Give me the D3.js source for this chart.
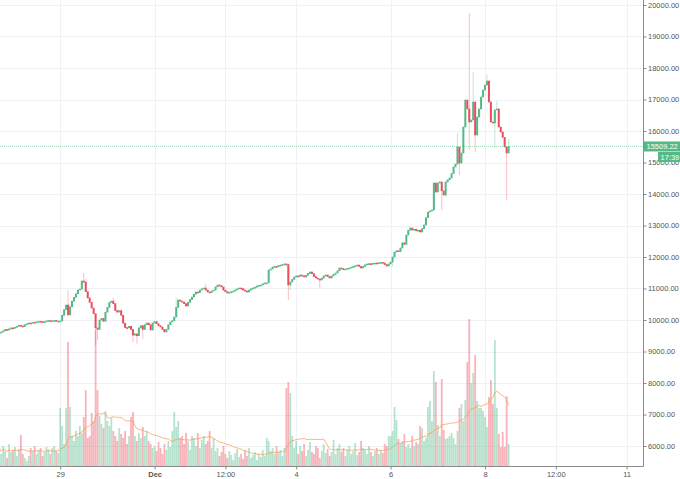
<!DOCTYPE html>
<html>
<head>
<meta charset="utf-8">
<title>BTCUSD 1h</title>
<script src="https://d3js.org/d3.v7.min.js"></script>
<style>
  body { margin: 0; background: #fff; }
  svg text { font-family: "Liberation Sans", Arial, sans-serif; }
</style>
</head>
<body>
<svg id="chart" width="680" height="479"></svg>
<script>
// hourly closes, first candle Nov 27 17:00
var closes = [
  9590, 9620, 9655, 9700, 9680, 9720, 9750,
  // Nov 28
  9745, 9770, 9800, 9830, 9810, 9790, 9850, 9880, 9905, 9900, 9930, 9915, 9940, 9960, 9945, 9925, 9950, 9970, 9985, 9968, 9975, 9990, 9960, 9965,
  // Nov 29
  9970, 10150, 10330, 10476, 10160, 10420, 10600, 10720, 10830, 10952, 10980, 11238, 11200, 10900, 10700, 10560, 10380, 10200, 9750, 9700, 10000, 10050, 9960, 10250,
  // Nov 30
  10400, 10560, 10600, 10520, 10300, 10250, 10300, 10150, 9900, 9760, 9750, 9800, 9700, 9520, 9560, 9500, 9750, 9820, 9700, 9850, 9905, 9850, 9683, 9905,
  // Dec 1
  9950, 9880, 9820, 9778, 9700, 9620, 9700, 9850, 9937, 9980, 10095, 10400, 10635, 10600, 10571, 10520, 10444, 10560, 10650, 10730, 10820, 10889, 10870, 10950,
  // Dec 2
  10990, 11016, 10950, 10889, 10870, 10920, 10952, 11050, 11111, 11090, 11048, 10950, 10900, 10857, 10880, 10900, 10920, 10960, 10990, 11016, 11000, 10950, 10920, 10889,
  // Dec 3
  10950, 10990, 11016, 11040, 11080, 11100, 11111, 11150, 11175, 11180, 11587, 11620, 11683, 11700, 11690, 11730, 11746, 11760, 11780, 11762, 11111, 11206, 11290, 11365,
  // Dec 4
  11400, 11380, 11429, 11400, 11365, 11420, 11480, 11524, 11470, 11380, 11333, 11300, 11270, 11330, 11400, 11429, 11380, 11333, 11400, 11450, 11492, 11560, 11651, 11630,
  // Dec 5
  11600, 11619, 11640, 11651, 11680, 11700, 11720, 11746, 11700, 11651, 11700, 11750, 11778, 11790, 11770, 11800, 11810, 11800, 11820, 11830, 11810, 11760, 11714, 11780,
  // Dec 6
  11841, 12000, 12159, 12200, 12170, 12286, 12450, 12400, 12698, 12850, 12921, 12857, 12880, 12830, 12850, 12794, 12900, 13016, 13250, 13429, 13460, 13492, 14349, 14063,
  // Dec 7
  14349, 14380, 14100, 13968, 14381, 14450, 14508, 14650, 14857, 14950, 15492, 14984, 15302, 16127, 16984, 16700, 16286, 16349, 16921, 15873, 16444, 16700, 17079, 17300,
  // Dec 8
  17460, 17587, 16921, 16286, 16254, 16667, 16700, 16127, 15968, 15800, 15492, 15302, 15509.22
];
var firstOpen = 9560;

var volumes = [
  18, 12, 20, 15, 8, 22, 14,
  16, 19, 10, 17, 31, 12, 8, 5, 10, 18, 15, 20, 12, 16, 18, 10, 14, 19, 17, 12, 18, 20, 15, 13,
  58, 40, 22, 58, 124, 59, 30, 25, 35, 30, 40, 33, 49, 76, 28, 30, 53, 45, 136, 76, 50, 42, 38, 55,
  45, 40, 48, 35, 30, 25, 38, 32, 28, 35, 22, 30, 49, 54, 30, 25, 33, 28, 39, 30, 35, 25, 22, 18,
  20, 15, 24, 18, 12, 22, 16, 25, 19, 35, 54, 39, 45, 28, 30, 22, 33, 25, 16, 30, 28, 20, 33, 18,
  26, 30, 22, 25, 35, 18, 28, 15, 18, 10, 14, 20, 12, 8, 15, 11, 6, 13, 17, 9, 12, 7, 15, 10,
  18, 8, 11, 14, 6, 12, 9, 16, 10, 28, 25, 15, 18, 12, 20, 14, 16, 10, 18, 78, 84, 73, 30, 18,
  25, 12, 20, 15, 22, 10, 16, 24, 14, 12, 20, 18, 8, 15, 22, 13, 17, 10, 14, 26, 12, 18, 22, 14,
  18, 10, 16, 20, 12, 15, 23, 11, 14, 25, 18, 16, 12, 20, 14, 10, 15, 18, 12, 16, 13, 22, 20, 30,
  30, 35, 59, 46, 27, 23, 25, 32, 19, 22, 18, 30, 20, 24, 22, 40, 38, 25, 28, 59, 65, 45, 95, 84,
  41, 30, 87, 36, 27, 28, 30, 33, 28, 22, 35, 58, 62, 45, 66, 104, 147, 83, 93, 111, 65, 58, 58, 55,
  49, 39, 69, 86, 62, 126, 58, 32, 19, 34, 19, 70, 22
];

// [candle index, high, low] for the visible wicks
var wicks = [
  [35, 10952, null], [43, 11490, null], [44, 11300, null], [49, null, 9200], [50, null, 9350],
  [58, 10700, null], [68, null, 9300], [70, null, 9250], [73, null, 9400], [90, 10700, null],
  [105, 11150, null], [146, 11800, null], [147, null, 10635], [148, null, 10950], [163, null, 11016],
  [200, null, 11700], [224, 14420, null], [225, null, 13492], [227, null, 13900], [233, 15937, null],
  [234, null, 14600], [239, 19746, 15400], [241, 17873, null], [242, null, 15333], [248, 17780, null],
  [252, null, 15460], [253, 16950, null], [258, null, 13810], [259, 15750, null]
];

var priceTicks = [6000, 7000, 8000, 9000, 10000, 11000, 12000, 13000, 14000, 15000, 16000, 17000, 18000, 19000, 20000];
var timeTicks = [
  [new Date(2017, 10, 29), "29"],
  [new Date(2017, 11, 1), "Dec"],
  [new Date(2017, 11, 2, 12), "12:00"],
  [new Date(2017, 11, 4), "4"],
  [new Date(2017, 11, 6), "6"],
  [new Date(2017, 11, 8), "8"],
  [new Date(2017, 11, 9, 12), "12:00"],
  [new Date(2017, 11, 11), "11"]
];
var lastPrice = 15509.22;
var countdown = "17:39";

var upColor = "#53b987", downColor = "#eb4d5c";
var axisX = 643.5, axisY = 466.5;

var start = new Date(2017, 10, 27, 17);
var data = closes.map(function(c, i) {
  var o = i ? closes[i - 1] : firstOpen;
  return { t: d3.timeHour.offset(start, i), o: o, c: c,
           h: Math.max(o, c), l: Math.min(o, c), v: volumes[i] };
});
wicks.forEach(function(w) {
  if (w[1] != null) data[w[0]].h = w[1];
  if (w[2] != null) data[w[0]].l = w[2];
});
// 20 bar volume average
data.forEach(function(d, i) {
  var part = data.slice(Math.max(0, i - 19), i + 1);
  d.ma = d3.mean(part, function(p) { return p.v; });
});

var x = d3.scaleTime()
  .domain([new Date(2017, 10, 28), new Date(2017, 11, 11)])
  .range([13, 626.6]);
var y = d3.scaleLinear().domain([6000, 20000]).range([446, 5]);
var yv = d3.scaleLinear().domain([0, 150]).range([466, 316]);

var svg = d3.select("#chart");

svg.append("defs").append("clipPath").attr("id", "plot")
  .append("rect").attr("x", 0).attr("y", 0).attr("width", axisX).attr("height", axisY);

// grid
var grid = svg.append("g");
grid.selectAll("line.h").data(priceTicks).enter().append("line")
  .attr("x1", 0).attr("x2", axisX)
  .attr("y1", function(d) { return Math.round(y(d)) + 0.5; })
  .attr("y2", function(d) { return Math.round(y(d)) + 0.5; })
  .attr("stroke", "#eef2f6").attr("stroke-width", 1);
grid.selectAll("line.v").data(timeTicks).enter().append("line")
  .attr("x1", function(d) { return Math.round(x(d[0])) + 0.5; })
  .attr("x2", function(d) { return Math.round(x(d[0])) + 0.5; })
  .attr("y1", 0).attr("y2", axisY)
  .attr("stroke", "#eef2f6").attr("stroke-width", 1);

var plot = svg.append("g").attr("clip-path", "url(#plot)");

// volume
plot.selectAll("rect.vol").data(data).enter().append("rect")
  .attr("x", function(d) { return x(d.t) - 0.9; })
  .attr("width", 1.8)
  .attr("y", function(d) { return yv(d.v); })
  .attr("height", function(d) { return yv(0) - yv(d.v); })
  .attr("fill", function(d) { return d.c >= d.o ? upColor : downColor; })
  .attr("opacity", 0.42);

plot.append("path").datum(data)
  .attr("d", d3.line().x(function(d) { return x(d.t); }).y(function(d) { return yv(d.ma); }))
  .attr("fill", "none").attr("stroke", "#fb9c52").attr("stroke-opacity", 0.75).attr("stroke-width", 1);

// candles
plot.selectAll("line.wick").data(data).enter().append("line")
  .attr("x1", function(d) { return x(d.t); })
  .attr("x2", function(d) { return x(d.t); })
  .attr("y1", function(d) { return y(d.h); })
  .attr("y2", function(d) { return y(d.l); })
  .attr("stroke", function(d) { return d.c >= d.o ? upColor : downColor; })
  .attr("stroke-opacity", 0.35).attr("stroke-width", 1);

plot.selectAll("rect.body").data(data).enter().append("rect")
  .attr("x", function(d) { return x(d.t) - 1; })
  .attr("width", 2)
  .attr("y", function(d) { return y(Math.max(d.o, d.c)) - 0.3; })
  .attr("height", function(d) { return Math.max(1.6, Math.abs(y(d.o) - y(d.c)) + 0.6); })
  .attr("fill", function(d) { return d.c >= d.o ? upColor : downColor; });

// last price line
svg.append("line")
  .attr("x1", 0).attr("x2", axisX)
  .attr("y1", y(lastPrice)).attr("y2", y(lastPrice))
  .attr("stroke", upColor).attr("stroke-opacity", 0.55)
  .attr("stroke-dasharray", "1,1").attr("stroke-width", 1);

// axes
var right = svg.append("g").attr("transform", "translate(" + axisX + ",0)")
  .call(d3.axisRight(y).tickValues(priceTicks).tickFormat(d3.format(".2f")).tickSize(3).tickPadding(1.5));
right.select(".domain").remove();
right.selectAll("line").attr("stroke", "#8a8a8a");
right.selectAll("text").attr("font-size", 7.5).attr("fill", "#555").attr("font-family", null);

var bottom = svg.append("g").attr("transform", "translate(0," + axisY + ")")
  .call(d3.axisBottom(x).tickValues(timeTicks.map(function(d) { return d[0]; }))
    .tickFormat(function(d, i) { return timeTicks[i][1]; }).tickSize(3).tickPadding(2));
bottom.select(".domain").remove();
bottom.selectAll("line").attr("stroke", "#8a8a8a");
bottom.selectAll("text").attr("font-size", 7.5).attr("fill", "#555").attr("font-family", null)
  .attr("font-weight", function(d, i) { return timeTicks[i][1] === "Dec" ? "bold" : null; });

svg.append("line").attr("x1", axisX).attr("x2", axisX).attr("y1", 0).attr("y2", axisY)
  .attr("stroke", "#8a8a8a");
svg.append("line").attr("x1", 0).attr("x2", axisX).attr("y1", axisY).attr("y2", axisY)
  .attr("stroke", "#8a8a8a");

// price tag + countdown
var ty = y(lastPrice);
svg.append("rect").attr("x", axisX).attr("y", ty - 5).attr("width", 680 - axisX).attr("height", 10)
  .attr("fill", upColor);
svg.append("text").attr("x", axisX + 3).attr("y", ty + 2.8)
  .attr("font-size", 7.5).attr("fill", "#fff").text(d3.format(".2f")(lastPrice));
svg.append("rect").attr("x", 658).attr("y", ty + 5.5).attr("width", 22).attr("height", 10)
  .attr("fill", upColor);
svg.append("text").attr("x", 660.5).attr("y", ty + 13.3)
  .attr("font-size", 7.5).attr("fill", "#fff").text(countdown);
</script>
</body>
</html>
